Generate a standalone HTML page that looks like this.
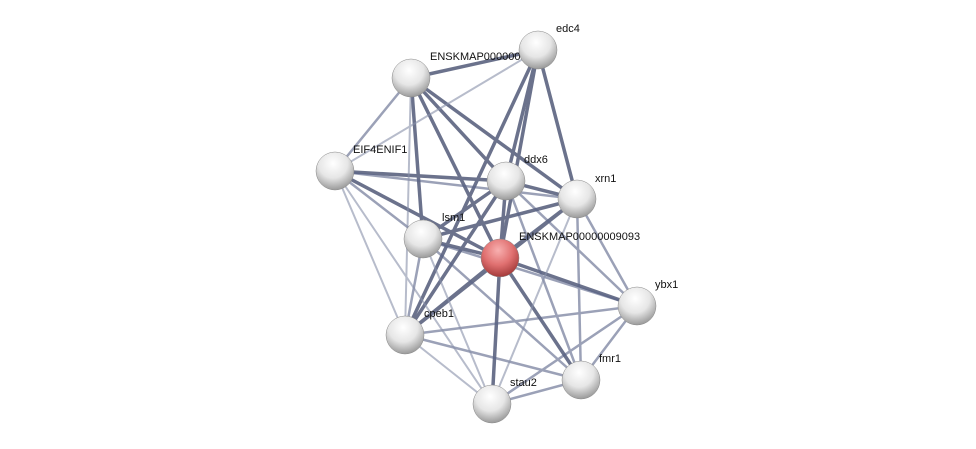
<!DOCTYPE html>
<html><head><style>body{margin:0;background:#fff}svg{display:block}text{font-family:"Liberation Sans",sans-serif;font-size:11px;fill:#111}</style></head><body>
<svg width="976" height="449" viewBox="0 0 976 449">
<defs>
<radialGradient id="g" cx="45%" cy="30%" r="70%"><stop offset="0" stop-color="#fff"/><stop offset="0.55" stop-color="#e6e6e6"/><stop offset="1" stop-color="#9a9a9a"/></radialGradient>
<radialGradient id="r" cx="45%" cy="30%" r="70%"><stop offset="0" stop-color="#f8b0b0"/><stop offset="0.55" stop-color="#e07070"/><stop offset="1" stop-color="#a33a3a"/></radialGradient>
</defs>
<g stroke-linecap="round">
<g stroke="#3a4466" stroke-width="3.5" opacity="0.75">
<line x1="411" y1="78" x2="538" y2="50"/><line x1="411" y1="78" x2="506" y2="181"/><line x1="411" y1="78" x2="577" y2="199"/><line x1="411" y1="78" x2="423" y2="239"/><line x1="411" y1="78" x2="500" y2="258"/>
<line x1="538" y1="50" x2="506" y2="181"/><line x1="538" y1="50" x2="577" y2="199"/><line x1="538" y1="50" x2="500" y2="258"/><line x1="538" y1="50" x2="405" y2="335"/>
<line x1="335" y1="171" x2="506" y2="181"/><line x1="335" y1="171" x2="500" y2="258"/>
<line x1="506" y1="181" x2="423" y2="239"/><line x1="506" y1="181" x2="500" y2="258"/><line x1="506" y1="181" x2="405" y2="335"/><line x1="506" y1="181" x2="577" y2="199"/>
<line x1="577" y1="199" x2="423" y2="239"/><line x1="577" y1="199" x2="500" y2="258"/><line x1="577" y1="199" x2="405" y2="335"/>
<line x1="500" y1="258" x2="405" y2="335"/><line x1="500" y1="258" x2="637" y2="306"/><line x1="500" y1="258" x2="492" y2="404"/><line x1="500" y1="258" x2="581" y2="380"/><line x1="423" y1="239" x2="500" y2="258"/>
</g>
<g stroke="#5a6488" stroke-width="2.5" opacity="0.6">
<line x1="411" y1="78" x2="335" y2="171"/><line x1="335" y1="171" x2="577" y2="199"/><line x1="335" y1="171" x2="423" y2="239"/>
<line x1="506" y1="181" x2="581" y2="380"/><line x1="506" y1="181" x2="637" y2="306"/><line x1="577" y1="199" x2="637" y2="306"/><line x1="577" y1="199" x2="581" y2="380"/>
<line x1="423" y1="239" x2="637" y2="306"/><line x1="423" y1="239" x2="405" y2="335"/><line x1="405" y1="335" x2="637" y2="306"/><line x1="637" y1="306" x2="581" y2="380"/><line x1="637" y1="306" x2="492" y2="404"/><line x1="405" y1="335" x2="581" y2="380"/><line x1="492" y1="404" x2="581" y2="380"/><line x1="423" y1="239" x2="581" y2="380"/>
</g>
<g stroke="#8890aa" stroke-width="2" opacity="0.6">
<line x1="335" y1="171" x2="538" y2="50"/><line x1="335" y1="171" x2="405" y2="335"/><line x1="335" y1="171" x2="492" y2="404"/><line x1="411" y1="78" x2="405" y2="335"/><line x1="577" y1="199" x2="492" y2="404"/><line x1="423" y1="239" x2="492" y2="404"/><line x1="405" y1="335" x2="492" y2="404"/>
</g>
</g>
<text x="556" y="32">edc4</text><text x="430" y="60">ENSKMAP00000009091</text><text x="353" y="153">EIF4ENIF1</text><text x="524" y="163">ddx6</text><text x="595" y="182">xrn1</text><text x="442" y="221">lsm1</text><text x="519" y="240">ENSKMAP00000009093</text><text x="655" y="288">ybx1</text><text x="424" y="317">cpeb1</text><text x="599" y="362">fmr1</text><text x="510" y="386">stau2</text>
<g stroke="#888" stroke-width="0.5">
<circle cx="538" cy="50" r="19" fill="url(#g)"/><circle cx="411" cy="78" r="19" fill="url(#g)"/><circle cx="335" cy="171" r="19" fill="url(#g)"/><circle cx="506" cy="181" r="19" fill="url(#g)"/><circle cx="577" cy="199" r="19" fill="url(#g)"/><circle cx="423" cy="239" r="19" fill="url(#g)"/><circle cx="500" cy="258" r="19" fill="url(#r)"/><circle cx="637" cy="306" r="19" fill="url(#g)"/><circle cx="405" cy="335" r="19" fill="url(#g)"/><circle cx="581" cy="380" r="19" fill="url(#g)"/><circle cx="492" cy="404" r="19" fill="url(#g)"/>
</g>
</svg>
</body></html>
